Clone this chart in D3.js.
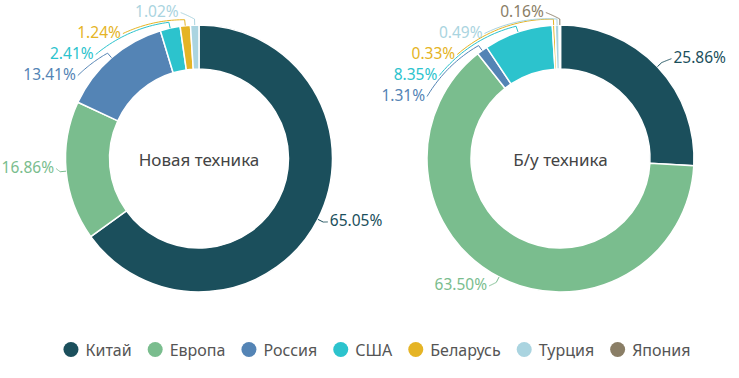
<!DOCTYPE html>
<html>
<head>
<meta charset="utf-8">
<script src="https://cdn.jsdelivr.net/npm/d3@7"></script>
<style>
  html, body { margin: 0; padding: 0; background: #fff; }
  svg { display: block; font-family: "Noto Sans", "Open Sans", sans-serif; }
</style>
</head>
<body>
<script>
// ---- data ----
const categories = ["Китай", "Европа", "Россия", "США", "Беларусь", "Турция", "Япония"];
const colors     = ["#1b4f5c", "#7abd8e", "#5484b5", "#2cc3cd", "#e5b425", "#aad4e0", "#8a7e66"];
const newValues  = [65.05, 16.86, 13.41, 2.41, 1.24, 1.02, 0];
const usedValues = [25.86, 63.50, 1.31, 8.35, 0.33, 0.49, 0.16];
const titles     = ["Новая техника", "Б/у техника"];

// ---- layout ----
const W = 739, H = 378;
const cy = 158.5, rOuter = 133.5, rInner = 89.5, RL = 148;
const charts = [
  { values: newValues,  title: titles[0], cx: 199 },
  { values: usedValues, title: titles[1], cx: 560.5 }
];

const svg = d3.select("body").append("svg").attr("width", W).attr("height", H);

const pie = d3.pie().sort(null).value(d => d.value);
const arc = d3.arc().innerRadius(rInner).outerRadius(rOuter);

charts.forEach(ch => {
  const data = categories.map((c, i) => ({ cat: c, value: ch.values[i], color: colors[i] }))
    .filter(d => d.value > 0);
  const arcs = pie(data);
  const g = svg.append("g").attr("transform", `translate(${ch.cx},${cy})`);

  g.selectAll("path.slice").data(arcs).enter().append("path")
    .attr("class", "slice")
    .attr("d", arc)
    .attr("fill", d => d.data.color)
    .attr("stroke", "#fff")
    .attr("stroke-width", 1.5);

  g.append("text")
    .attr("text-anchor", "middle")
    .attr("dominant-baseline", "central")
    .attr("y", 1)
    .attr("font-size", 17)
    .attr("fill", "#444")
    .text(ch.title);

  // label layout
  const labels = arcs.map(d => {
    const a0 = (d.startAngle + d.endAngle) / 2;
    return { d, a0, side: a0 > Math.PI ? "left" : "right", ny: -RL * Math.cos(a0) };
  });
  ["left", "right"].forEach(side => {
    const ls = labels.filter(l => l.side === side).sort((a, b) => a.ny - b.ny);
    let prev = -Infinity;
    ls.forEach(l => {
      l.y = Math.max(l.ny, prev + 21);
      prev = l.y;
    });
  });

  labels.forEach(l => {
    const sgn = l.side === "left" ? -1 : 1;
    const circX = sgn * Math.sqrt(Math.max(0, RL * RL - l.y * l.y));
    const sliceX = rOuter * Math.sin(l.a0);
    const lower = l.y > 0;
    const gap = lower ? 10 : 14;
    const lx = lower ? sliceX + sgn * gap
                     : (sgn < 0 ? Math.min(circX, sliceX - gap) : Math.max(circX, sliceX + gap));
    const yc = lower ? l.y - 6 : l.y;
    const ly = yc + 2;

    // leader line
    const p0 = [rOuter * Math.sin(l.a0), -rOuter * Math.cos(l.a0)];
    let aL = Math.atan2(lx, -ly);
    if (aL < 0) aL += 2 * Math.PI;
    const rEnd = Math.sqrt(lx * lx + ly * ly);
    const r1 = rOuter + 6;
    const pts = [p0];
    const N = 24;
    for (let k = 0; k <= N; k++) {
      const t = k / N;
      const a = l.a0 + (aL - l.a0) * t;
      const rr = r1 + (rEnd - r1) * t;
      pts.push([rr * Math.sin(a), -rr * Math.cos(a)]);
    }
    pts.push([lx, ly]);
    g.append("path")
      .attr("d", d3.line()(pts))
      .attr("fill", "none")
      .attr("stroke", l.d.data.color)
      .attr("stroke-width", 1);

    g.append("text")
      .attr("x", lx + sgn * 2)
      .attr("y", yc)
      .attr("text-anchor", sgn < 0 ? "end" : "start")
      .attr("dominant-baseline", "central")
      .attr("font-size", 15.5)
      .attr("fill", l.d.data.color)
      .text(l.d.data.value.toFixed(2) + "%");
  });
});

// ---- legend ----
const legend = svg.append("g").attr("transform", `translate(0,349.5)`);
const items = legend.selectAll("g.item").data(categories).enter().append("g").attr("class", "item");
items.append("circle").attr("r", 7.5).attr("cx", 7.5).attr("cy", 0).attr("fill", (d, i) => colors[i]);
items.append("text")
  .attr("x", 22)
  .attr("dominant-baseline", "central")
  .attr("font-size", 16)
  .attr("fill", "#555")
  .text(d => d);
let xPos = 0;
const offsets = [];
const itemGap = 16;
items.each(function () {
  const w = 22 + this.querySelector("text").getComputedTextLength();
  offsets.push(xPos);
  xPos += w + itemGap;
});
const total = xPos - itemGap;
const start = 377 - total / 2;
items.attr("transform", (d, i) => `translate(${start + offsets[i]},0)`);
</script>
</body>
</html>
